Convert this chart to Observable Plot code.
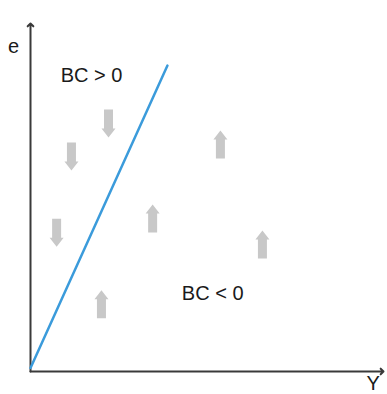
<!DOCTYPE html>
<html>
<head>
<meta charset="utf-8">
<script src="https://cdn.jsdelivr.net/npm/d3@7"></script>
<script src="https://cdn.jsdelivr.net/npm/@observablehq/plot@0.6"></script>
<style>
  html, body { margin: 0; padding: 0; background: #fff; }
  #chart svg { display: block; }
</style>
</head>
<body>
<div id="chart"></div>
<script>
// Boundary line BC = 0 (in axis units, 0..100)
const boundaryX = [0, 38.8];
const boundaryY = [1, 87.9];

// Gray direction arrows
const arrowX = [22.1, 11.6, 7.4, 53.8, 34.6, 65.7, 20.1];
const arrowY = [71.3, 61.8, 39.9, 65.2, 44.0, 36.5, 19.3];
const arrowDir = ["down", "down", "down", "up", "up", "up", "up"];

// Region labels
const labelText = ["BC > 0", "BC < 0"];
const labelX = [17.3, 51.6];
const labelY = [85.1, 22.4];

// Axis titles
const axisTitleText = ["e", "Y"];
const axisTitleX = [-4.8, 97.1];
const axisTitleY = [93.4, -3.4];

const boundary = boundaryX.map((x, i) => ({x, y: boundaryY[i]}));
const arrows = arrowX.map((x, i) => ({x, y: arrowY[i], dir: arrowDir[i]}));
const labels = labelText.map((t, i) => ({t, x: labelX[i], y: labelY[i]}));
const titles = axisTitleText.map((t, i) => ({t, x: axisTitleX[i], y: axisTitleY[i]}));
const axesLines = [
  {x1: 0, y1: 0, x2: 0, y2: 100},
  {x1: 0, y1: 0, x2: 100, y2: 0}
];

const blockArrow = {
  draw(context, l) {
    const sw = 4.5, hw = 7, hl = 9;
    context.moveTo(-sw, 0);
    context.lineTo(-sw, -l + hl);
    context.lineTo(-hw, -l + hl);
    context.lineTo(0, -l);
    context.lineTo(hw, -l + hl);
    context.lineTo(sw, -l + hl);
    context.lineTo(sw, 0);
    context.closePath();
  }
};

const chart = Plot.plot({
  width: 387,
  height: 394,
  marginLeft: 30,
  marginRight: 4,
  marginTop: 23,
  marginBottom: 23,
  style: {background: "#fff", fontFamily: "Liberation Sans, Arial, sans-serif"},
  x: {domain: [0, 100], axis: null},
  y: {domain: [0, 100], axis: null},
  marks: [
    Plot.arrow(axesLines, {
      x1: "x1", y1: "y1", x2: "x2", y2: "y2",
      stroke: "#3a3a3a", strokeWidth: 2, headLength: 3, headAngle: 90, bend: 0
    }),
    Plot.line(boundary, {x: "x", y: "y", stroke: "#3b9bdb", strokeWidth: 2.5}),
    Plot.vector(arrows, {
      x: "x", y: "y", length: 28, anchor: "middle",
      rotate: d => d.dir === "up" ? 0 : 180,
      shape: blockArrow, fill: "#c8c8c8", stroke: "none"
    }),
    Plot.text(labels, {x: "x", y: "y", text: "t", fontSize: 20, fill: "#1a1a1a"}),
    Plot.text(titles, {x: "x", y: "y", text: "t", fontSize: 20, fill: "#1a1a1a"})
  ]
});
document.getElementById("chart").appendChild(chart);
</script>
</body>
</html>
